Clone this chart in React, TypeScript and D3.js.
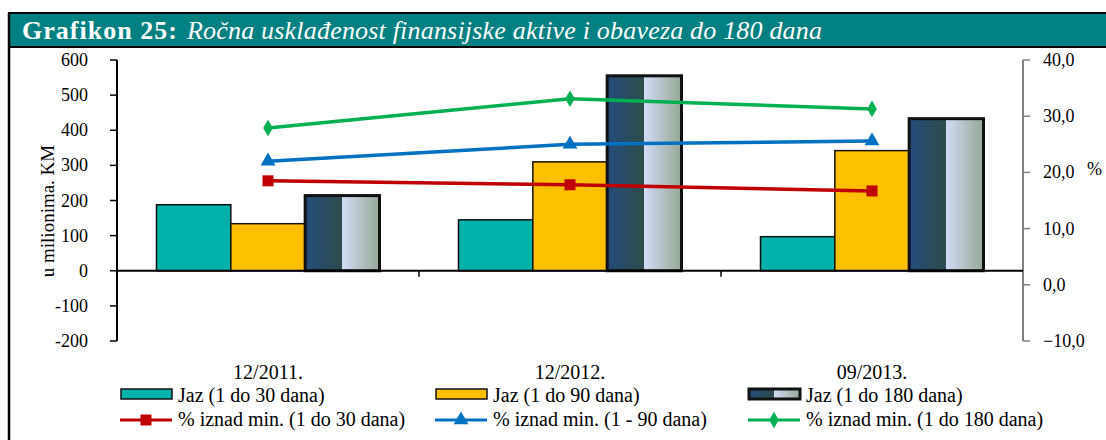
import React from 'react';
import * as d3 from 'd3';

const categories = ['12/2011.', '12/2012.', '09/2013.'];
const barSeries = ['Jaz (1 do 30 dana)', 'Jaz (1 do 90 dana)', 'Jaz (1 do 180 dana)'];
const gap30 = [188, 145, 97];
const gap90 = [134, 310, 342];
const gap180 = [214, 555, 433];
const lineSeries = ['% iznad min. (1 do 30 dana)', '% iznad min. (1 - 90 dana)', '% iznad min. (1 do 180 dana)'];
const pct30 = [18.5, 17.8, 16.7];
const pct90 = [22.0, 25.0, 25.6];
const pct180 = [27.9, 33.1, 31.3];
const leftTicks = [-200, -100, 0, 100, 200, 300, 400, 500, 600];
const rightTicks = [-10, 0, 10, 20, 30, 40];

const FONT = '"Liberation Serif", "Times New Roman", serif';

export default function App() {
    const width = 1106, height = 440;
    const left = 117, right = 1023, top = 60, bottom = 341;

    const x = d3.scaleBand().domain(categories).range([left, right]);
    const xs = d3.scaleBand().domain(barSeries).range([0, 223]);
    const yL = d3.scaleLinear().domain([-200, 600]).range([bottom, top]);
    const yR = d3.scaleLinear().domain([-10, 40]).range([bottom, top]);
    const fmt = (v: number) => d3.format('.1f')(v).replace('.', ',');

    const barData = [gap30, gap90, gap180];
    const barFill = ['#00B2AA', '#FFC000', 'url(#chrome)'];
    const lineData = [pct30, pct90, pct180];
    const lineColor = ['#C00000', '#0070C0', '#00B050'];

    const line = d3.line<number>()
        .x((_, i) => x(categories[i])! + x.bandwidth() / 2)
        .y(d => yR(d));

    const marker = (k: number, cx: number, cy: number, key: string) => {
        const c = lineColor[k];
        if (k === 0) return <rect key={key} x={cx - 5.5} y={cy - 5.5} width={11} height={11} fill={c} />;
        const sym = d3.symbol().type(k === 1 ? d3.symbolTriangle : d3.symbolDiamond).size(k === 1 ? 95 : 80)();
        return <path key={key} d={sym!} transform={`translate(${cx},${cy})`} fill={c} />;
    };

    const legCols = [120, 435, 748];

    return (
        <svg width={width} height={height} style={{ position: 'absolute', left: 0, top: 0, background: '#fff' }}>
            <defs>
                <linearGradient id="chrome" x1="0" x2="1" y1="0" y2="0">
                    <stop offset="0" stopColor="#234C7C" />
                    <stop offset="0.5" stopColor="#2E4C4A" />
                    <stop offset="0.5" stopColor="#D2DAF6" />
                    <stop offset="1" stopColor="#95A894" />
                </linearGradient>
            </defs>
            {/* frame and header */}
            <rect x={9} y={13} width={width} height={34} fill="#008080" stroke="#000" strokeWidth={2} />
            <line x1={9} x2={9} y1={13} y2={height} stroke="#000" strokeWidth={2.5} />
            <text x={22} y={39} fill="#fff" fontFamily={FONT} fontSize={26}>
                <tspan fontWeight="bold" textLength={155}>Grafikon 25:</tspan>
                <tspan fontStyle="italic" x={187} textLength={635}>Ročna usklađenost finansijske aktive i obaveza do 180 dana</tspan>
            </text>

            {/* bars */}
            {categories.map((c, i) => (
                <g key={c} transform={`translate(${x(c)! + (x.bandwidth() - 223) / 2},0)`}>
                    {barSeries.map((s, k) => {
                        const v = barData[k][i];
                        return (
                            <rect key={s} x={xs(s)} width={xs.bandwidth()}
                                y={yL(Math.max(0, v))} height={Math.abs(yL(v) - yL(0))}
                                fill={barFill[k]} stroke="#111" strokeWidth={k === 2 ? 3 : 1.5} />
                        );
                    })}
                </g>
            ))}

            {/* left axis */}
            <line x1={left} x2={left} y1={top} y2={bottom} stroke="#000" strokeWidth={2} />
            {leftTicks.map(t => (
                <g key={t}>
                    <line x1={left - 7} x2={left} y1={yL(t)} y2={yL(t)} stroke="#000" strokeWidth={1.5} />
                    <text x={88} y={yL(t) + 6} textAnchor="end" fontFamily={FONT} fontSize={18}>{t}</text>
                </g>
            ))}
            <text transform={`translate(54,211) rotate(-90)`} textAnchor="middle"
                fontFamily={FONT} fontSize={19}>u milionima. KM</text>

            {/* right axis */}
            <line x1={right} x2={right} y1={top} y2={bottom} stroke="#808080" strokeWidth={2} />
            {rightTicks.map(t => (
                <g key={t}>
                    <line x1={right} x2={right + 7} y1={yR(t)} y2={yR(t)} stroke="#808080" strokeWidth={1.5} />
                    <text x={1043} y={yR(t) + 6} fontFamily={FONT} fontSize={18}>{fmt(t)}</text>
                </g>
            ))}
            <text x={1087} y={175} fontFamily={FONT} fontSize={18}>%</text>

            {/* category axis */}
            <line x1={left} x2={right} y1={yL(0)} y2={yL(0)} stroke="#000" strokeWidth={2} />
            {categories.slice(1).map(c => (
                <line key={c} x1={x(c)} x2={x(c)} y1={yL(0)} y2={yL(0) + 6} stroke="#000" strokeWidth={1.5} />
            ))}
            {categories.map(c => (
                <text key={c} x={x(c)! + x.bandwidth() / 2} y={379} textAnchor="middle" fontFamily={FONT} fontSize={20}>{c}</text>
            ))}

            {/* lines */}
            {lineData.map((d, k) => (
                <g key={lineSeries[k]}>
                    <path d={line(d)!} fill="none" stroke={lineColor[k]} strokeWidth={3.5} />
                    {d.map((v, i) => marker(k, x(categories[i])! + x.bandwidth() / 2, yR(v), `${k}-${i}`))}
                </g>
            ))}

            {/* legend */}
            {barSeries.map((s, k) => (
                <g key={s}>
                    <rect x={legCols[k] + 1} y={389} width={51} height={10} fill={barFill[k]} stroke="#111" strokeWidth={k === 2 ? 3 : 1.5} />
                    <text x={legCols[k] + 58} y={402} fontFamily={FONT} fontSize={20}>{s}</text>
                </g>
            ))}
            {lineSeries.map((s, k) => (
                <g key={s}>
                    <line x1={legCols[k]} x2={legCols[k] + 52} y1={420} y2={420} stroke={lineColor[k]} strokeWidth={3} />
                    {marker(k, legCols[k] + 26, 420, `leg-${k}`)}
                    <text x={legCols[k] + 58} y={426} fontFamily={FONT} fontSize={20}>{s}</text>
                </g>
            ))}
        </svg>
    );
}
